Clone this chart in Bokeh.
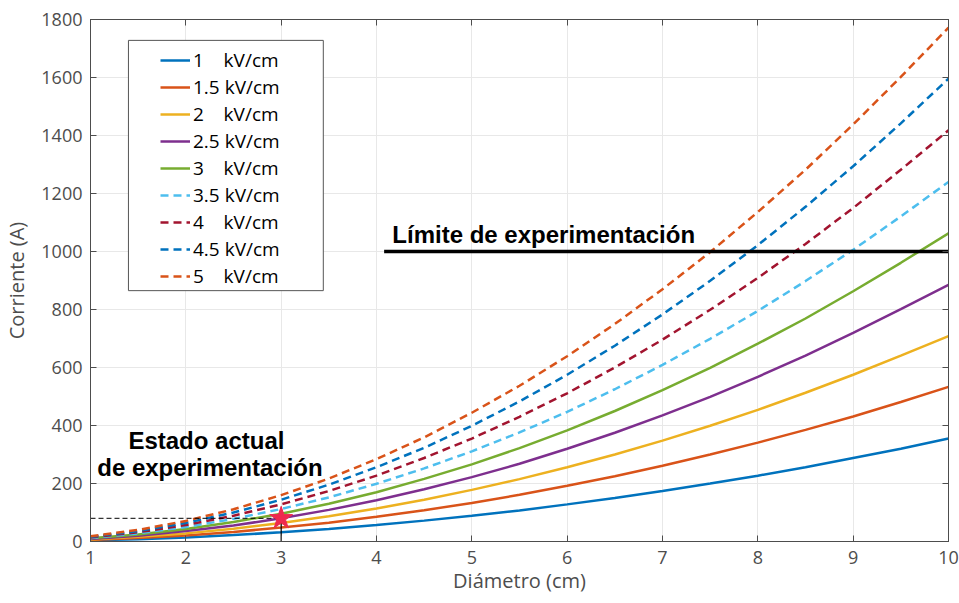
from bokeh.plotting import figure
from bokeh.models import Range1d, LinearAxis, Legend, BoxAnnotation
from bokeh.embed import file_html
from bokeh.resources import INLINE
from bokeh.core.properties import value

# Diameter (cm)
diametro = [1, 1.5, 2, 2.5, 3, 3.5, 4, 4.5, 5, 5.5, 6, 6.5, 7, 7.5, 8, 8.5, 9, 9.5, 10]

# Current (A) per field strength
i_1_0 = [4, 8, 14, 22, 32, 43, 57, 72, 89, 107, 128, 150, 174, 200, 227, 256, 288, 320, 355]
i_1_5 = [5, 12, 21, 33, 48, 65, 85, 108, 133, 161, 192, 225, 261, 300, 341, 385, 431, 481, 533]
i_2_0 = [7, 16, 28, 44, 64, 87, 114, 144, 178, 215, 256, 300, 348, 399, 454, 513, 575, 641, 708]
i_2_5 = [9, 20, 36, 55, 80, 109, 142, 180, 222, 268, 320, 375, 435, 499, 568, 641, 719, 801, 885]
i_3_0 = [11, 24, 43, 67, 96, 130, 170, 216, 266, 322, 383, 450, 522, 599, 682, 769, 863, 961, 1063]
i_3_5 = [12, 28, 50, 78, 112, 152, 199, 252, 311, 376, 447, 525, 609, 699, 795, 898, 1006, 1121, 1240]
i_4_0 = [14, 32, 57, 89, 128, 174, 227, 288, 355, 430, 511, 600, 696, 799, 909, 1026, 1150, 1282, 1418]
i_4_5 = [16, 36, 64, 100, 144, 196, 256, 323, 399, 483, 575, 675, 783, 899, 1022, 1154, 1294, 1442, 1596]
i_5_0 = [18, 40, 71, 111, 160, 217, 284, 359, 444, 537, 639, 750, 870, 998, 1136, 1282, 1438, 1602, 1772]

series = [i_1_0, i_1_5, i_2_0, i_2_5, i_3_0, i_3_5, i_4_0, i_4_5, i_5_0]
labels = ["1\u00a0\u00a0\u00a0\u00a0kV/cm", "1.5 kV/cm", "2\u00a0\u00a0\u00a0\u00a0kV/cm",
          "2.5 kV/cm", "3\u00a0\u00a0\u00a0\u00a0kV/cm", "3.5 kV/cm",
          "4\u00a0\u00a0\u00a0\u00a0kV/cm", "4.5 kV/cm", "5\u00a0\u00a0\u00a0\u00a0kV/cm"]
colors = ["#0072BD", "#D95319", "#EDB120", "#7E2F8E", "#77AC30",
          "#4DBEEE", "#A2142F", "#0072BD", "#D95319"]
dashed = [False, False, False, False, False, True, True, True, True]

# Annotations
limite_x = [4.08, 10]
limite_y = [1000, 1000]
estado_x = 3
estado_y = 80
x_ticks = [1, 2, 3, 4, 5, 6, 7, 8, 9, 10]
y_ticks = [0, 200, 400, 600, 800, 1000, 1200, 1400, 1600, 1800]

p = figure(width=959, height=603, output_backend="svg", toolbar_location=None,
           x_range=Range1d(1, 10), y_range=Range1d(0, 1800),
           min_border_left=89, min_border_right=11, min_border_top=19, min_border_bottom=62)
p.outline_line_color = "#4d4d4d"
p.outline_line_width = 1
p.background_fill_color = "white"
p.border_fill_color = "white"

tick_font = "Open Sans"
for ax in (p.xaxis[0], p.yaxis[0]):
    ax.major_label_text_font = tick_font
    ax.major_label_text_font_size = "18px"
    ax.major_label_text_color = "#4d4d4d"
    ax.axis_label_text_font = tick_font
    ax.axis_label_text_font_size = "20px"
    ax.axis_label_text_font_style = "normal"
    ax.axis_label_text_color = "#4d4d4d"
    ax.axis_line_color = "#4d4d4d"
    ax.major_tick_line_color = "#4d4d4d"
    ax.major_tick_in = 6
    ax.major_tick_out = 0
    ax.minor_tick_line_color = None
p.xaxis.major_label_standoff = 9
p.yaxis.major_label_standoff = 8
p.xaxis.ticker = x_ticks
p.yaxis.ticker = y_ticks
p.xaxis.axis_label = "Diámetro (cm)"
p.yaxis.axis_label = "Corriente (A)"
p.xaxis.axis_label_standoff = 0
p.yaxis.axis_label_standoff = 8

for loc in ("right", "above"):
    ax = LinearAxis(ticker=x_ticks if loc == "above" else y_ticks,
                    major_label_text_font_size="0px", axis_line_color="#4d4d4d",
                    major_tick_line_color="#4d4d4d", major_tick_in=6, major_tick_out=0,
                    minor_tick_line_color=None, major_label_standoff=0)
    p.add_layout(ax, loc)

p.xgrid.grid_line_color = "#e8e8e8"
p.ygrid.grid_line_color = "#e8e8e8"
p.xgrid.ticker = x_ticks
p.ygrid.ticker = y_ticks

items = []
for vals, lab, col, d in zip(series, labels, colors, dashed):
    r = p.line(diametro, vals, line_color=col, line_width=2.5,
               line_dash="8 5" if d else "solid")
    items.append((lab, [r]))

# Limit line
p.line(limite_x, limite_y, line_color="black", line_width=3.5)
p.text(x=[5.754], y=[1012], text=["Límite de experimentación"], text_font=value("Liberation Sans"),
       text_font_style="bold", text_font_size="24px", text_align="center",
       text_baseline="bottom", text_color="black")

# Current state
p.line([diametro[0], estado_x], [estado_y, estado_y], line_color="black", line_width=1, line_dash="5 3")
p.line([estado_x, estado_x], [0, estado_y], line_color="black", line_width=1.2)
p.scatter([estado_x], [estado_y], marker="star", size=24, fill_color="#EE2A4F",
          line_color="#EE2A4F")
p.text(x=[2.216], y=[348], text=["Estado actual"], text_font=value("Liberation Sans"),
       text_font_style="bold", text_font_size="24px", text_align="center",
       text_baseline="middle", text_color="black")
p.text(x=[2.253], y=[254], text=["de experimentación"], text_font=value("Liberation Sans"),
       text_font_style="bold", text_font_size="24px", text_align="center",
       text_baseline="middle", text_color="black")

# Legend frame
p.add_layout(BoxAnnotation(left=1.398, right=3.442, bottom=865, top=1728,
                           fill_color="white", fill_alpha=1.0,
                           line_color="#555555", line_width=1, line_alpha=1.0))

legend = Legend(items=items, location=(70, 252))
legend.label_text_font = tick_font
legend.label_text_font_size = "19px"
legend.label_text_color = "black"
legend.glyph_width = 30
legend.glyph_height = 24
legend.label_height = 24
legend.spacing = 1
legend.padding = 0
legend.margin = 0
legend.border_line_color = None
legend.background_fill_alpha = 0
legend.label_standoff = 3
p.add_layout(legend, "center")

open("out.html", "w").write(file_html(p, INLINE))
